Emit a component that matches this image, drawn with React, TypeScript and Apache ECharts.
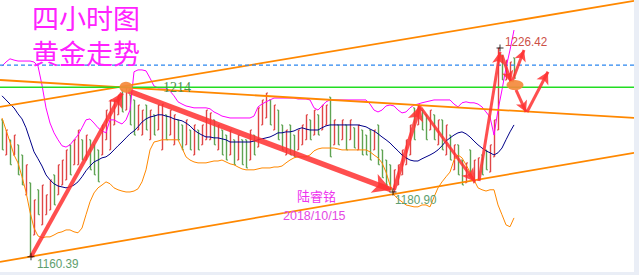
import React, { useEffect, useRef } from "react";
import * as echarts from "echarts";

// ---- data (4-hour gold bars) ----
const SLOT_COUNT = 158;
const slots = Array.from({ length: SLOT_COUNT }, (_, i) => String(i));

const opens = [
  1203.7, 1192.6, 1197.4, 1192.6, 1195.8, 1192.6, 1180.0, 1183.8, 1167.3, 1181.6,
  1170.5, 1173.7, 1175.2, 1186.3, 1180.0, 1183.1, 1184.7, 1195.8, 1189.5, 1189.5,
  1197.4, 1191.0, 1197.4, 1195.8, 1194.2, 1192.6, 1197.4, 1194.2, 1202.1, 1205.3,
  1213.2, 1206.8, 1211.6, 1210.0, 1200.5, 1198.9, 1208.4, 1197.4, 1205.3, 1200.5,
  1194.2, 1205.3, 1198.9, 1195.8, 1203.7, 1202.1, 1195.8, 1200.5, 1192.6, 1200.5,
  1195.8, 1197.4, 1197.4, 1203.7, 1194.2, 1200.5, 1198.9, 1192.6, 1197.4, 1191.0,
  1197.4, 1197.4, 1191.0, 1198.9, 1195.1, 1202.1, 1204.3, 1210.0, 1200.5, 1206.8,
  1202.1, 1192.6, 1202.1, 1198.9, 1194.2, 1195.8, 1197.4, 1203.7, 1198.9, 1205.3,
  1200.5, 1202.1, 1210.9, 1195.8, 1202.1, 1197.4, 1202.1, 1197.4, 1201.2, 1194.2,
  1200.5, 1198.9, 1200.5, 1194.2, 1202.1, 1194.2, 1191.0, 1189.5, 1180.9, 1183.1,
  1186.3, 1189.5, 1192.6, 1207.5, 1202.1, 1206.8, 1205.3, 1200.5, 1205.3, 1195.8,
  1203.7, 1192.6, 1198.9, 1187.9, 1195.8, 1191.0, 1183.8, 1194.2, 1183.8, 1184.7,
  1192.6, 1194.2, 1187.2, 1192.0, 1200.5, 1224.2, 1216.3, 1215.7, 1223.3,
];
const closes = [
  1194.2, 1200.5, 1189.5, 1198.9, 1186.3, 1183.1, 1189.5, 1160.39, 1178.4, 1173.7,
  1183.1, 1180.0, 1184.7, 1176.8, 1189.5, 1191.0, 1194.2, 1186.3, 1197.4, 1200.5,
  1191.0, 1198.9, 1187.9, 1186.3, 1184.1, 1202.1, 1206.8, 1210.0, 1210.0, 1211.6,
  1206.2, 1214.0, 1202.1, 1198.9, 1208.4, 1206.8, 1200.5, 1206.8, 1198.9, 1208.4,
  1208.7, 1197.4, 1206.8, 1205.3, 1197.4, 1194.2, 1203.7, 1194.2, 1202.1, 1194.2,
  1202.1, 1206.8, 1205.9, 1195.8, 1202.1, 1192.6, 1191.0, 1200.5, 1189.5, 1198.9,
  1189.5, 1188.5, 1200.5, 1192.6, 1207.5, 1210.0, 1212.2, 1202.1, 1208.4, 1197.4,
  1194.2, 1200.5, 1192.6, 1192.0, 1200.5, 1202.1, 1205.3, 1197.4, 1206.8, 1198.9,
  1208.4, 1208.4, 1192.0, 1203.7, 1195.8, 1203.7, 1194.2, 1203.7, 1194.8, 1202.1,
  1192.6, 1192.6, 1191.0, 1200.5, 1189.5, 1185.4, 1183.1, 1181.6, 1187.9, 1189.5,
  1194.2, 1197.4, 1202.1, 1197.4, 1208.4, 1200.5, 1197.4, 1206.8, 1197.4, 1203.7,
  1194.2, 1202.1, 1191.0, 1195.8, 1186.3, 1183.1, 1190.1, 1186.3, 1191.0, 1191.7,
  1186.3, 1187.9, 1195.8, 1203.7, 1226.42, 1216.3, 1222.6, 1222.0, 1216.9,
];

const upperBand = [
  1220.7, 1222.0, 1223.0, 1222.6, 1222.3, 1222.3, 1222.3, 1222.3, 1222.0, 1220.7,
  1214.7, 1207.5, 1202.7, 1199.6, 1197.4, 1195.5, 1195.1, 1195.8, 1197.4, 1198.9,
  1201.2, 1203.7, 1204.0, 1202.7, 1201.2, 1200.2, 1199.6, 1203.7, 1203.7, 1203.0,
  1202.4, 1203.7, 1206.8, 1218.9, 1219.5, 1219.5, 1219.2, 1216.9, 1214.4, 1213.8,
  1213.8, 1213.8, 1212.8, 1211.3, 1209.4, 1208.7, 1208.1, 1207.8, 1207.5, 1207.5,
  1207.5, 1207.5, 1207.2, 1206.2, 1205.6, 1204.9, 1204.6, 1204.3, 1204.3, 1204.3,
  1204.3, 1204.3, 1204.3, 1204.9, 1207.8, 1208.7, 1209.4, 1210.0, 1210.6, 1210.6,
  1210.6, 1210.6, 1210.6, 1210.6, 1210.3, 1210.3, 1210.3, 1210.0, 1207.5, 1206.8,
  1208.1, 1209.4, 1210.0, 1210.0, 1210.0, 1210.0, 1210.0, 1210.0, 1210.0, 1210.0,
  1210.0, 1210.0, 1208.7, 1206.8, 1206.2, 1206.8, 1208.1, 1208.4, 1208.1, 1206.8,
  1205.9, 1206.2, 1207.5, 1208.4, 1208.7, 1209.1, 1209.4, 1209.7, 1210.0, 1210.0,
  1210.0, 1210.0, 1210.0, 1208.7, 1207.8, 1209.1, 1209.4, 1209.1, 1209.1, 1208.7,
  1207.8, 1206.2, 1204.6, 1198.9, 1206.8, 1213.2, 1220.1, 1225.8, 1232.1,
];
const midBand = [
  1211.3, 1210.0, 1208.7, 1207.5, 1205.6, 1204.0, 1201.2, 1197.4, 1193.6, 1191.4,
  1189.1, 1186.3, 1184.7, 1183.5, 1182.8, 1182.5, 1182.2, 1182.5, 1183.1, 1184.1,
  1185.7, 1187.6, 1189.1, 1190.4, 1191.0, 1191.7, 1192.0, 1192.9, 1194.2, 1195.5,
  1196.7, 1198.0, 1199.3, 1200.2, 1201.5, 1203.0, 1204.0, 1204.6, 1204.9, 1205.3,
  1205.3, 1204.9, 1204.6, 1204.0, 1203.7, 1203.4, 1202.7, 1201.8, 1200.5, 1199.6,
  1198.9, 1198.3, 1198.3, 1198.0, 1198.0, 1197.7, 1197.4, 1196.7, 1196.7, 1196.7,
  1196.7, 1196.7, 1196.7, 1197.0, 1197.4, 1197.7, 1198.0, 1198.3, 1198.9, 1199.6,
  1199.6, 1199.9, 1199.9, 1200.2, 1200.8, 1201.2, 1200.8, 1200.5, 1200.5, 1200.5,
  1201.2, 1201.8, 1202.1, 1202.1, 1202.1, 1202.1, 1202.1, 1202.1, 1202.1, 1202.1,
  1201.8, 1201.5, 1200.8, 1200.2, 1199.3, 1198.3, 1197.4, 1196.4, 1195.1, 1193.9,
  1192.6, 1191.7, 1191.0, 1190.7, 1190.7, 1191.4, 1192.0, 1192.6, 1193.3, 1194.2,
  1195.5, 1197.0, 1198.0, 1198.9, 1199.6, 1199.9, 1199.3, 1198.3, 1197.0, 1195.8,
  1194.8, 1193.9, 1193.3, 1192.6, 1193.3, 1194.8, 1197.4, 1199.9, 1202.1,
];
const lowerBand = [
  1204.3, 1200.5, 1196.7, 1192.6, 1190.1, 1185.7, 1180.9, 1174.6, 1169.5, 1167.0,
  1166.4, 1166.7, 1166.7, 1167.3, 1168.0, 1168.3, 1168.9, 1168.9, 1168.3, 1168.0,
  1169.5, 1173.7, 1177.8, 1180.6, 1182.2, 1183.1, 1184.1, 1183.5, 1182.2, 1181.6,
  1181.2, 1180.9, 1180.9, 1181.2, 1181.9, 1184.1, 1187.9, 1194.2, 1196.7, 1197.0,
  1197.4, 1197.4, 1197.4, 1197.4, 1197.4, 1194.8, 1192.0, 1191.0, 1190.4, 1190.1,
  1190.1, 1190.1, 1190.4, 1190.7, 1190.7, 1191.0, 1190.4, 1189.8, 1189.5, 1188.8,
  1188.2, 1187.9, 1187.9, 1187.9, 1188.2, 1188.5, 1188.5, 1188.5, 1188.8, 1188.8,
  1189.1, 1190.1, 1191.0, 1191.7, 1192.0, 1192.0, 1192.0, 1192.6, 1193.9, 1194.5,
  1194.8, 1194.8, 1194.8, 1194.8, 1194.5, 1194.2, 1194.2, 1194.2, 1194.2, 1194.2,
  1194.2, 1194.2, 1193.6, 1192.6, 1191.7, 1190.1, 1187.2, 1183.1, 1180.0, 1178.7,
  1177.8, 1176.8, 1176.5, 1176.2, 1176.2, 1176.8, 1176.8, 1176.2, 1179.3, 1182.2,
  1184.1, 1185.7, 1187.2, 1191.0, 1192.6, 1191.7, 1189.5, 1187.2, 1184.7, 1182.2,
  1181.6, 1181.2, 1181.6, 1181.6, 1176.8, 1173.7, 1170.5, 1169.9, 1172.7,
];

// trend / channel lines: [slot, price] anchors
const upperChannel = [[-0.5, 1207.8], [158, 1241.3]];
const resistanceLine = [[-0.5, 1216.3], [158, 1204.3]];
const lowerChannel = [[-0.5, 1158.8], [158, 1193.3]];
const level1214 = 1214.0;
const level1221 = 1221.0;

// drawn arrows: [[fromSlot, fromPrice], [toSlot, toPrice]]
const arrowPaths = [
  [[7.25, 1160.4], [30.0, 1212.2]],
  [[31.5, 1212.9], [97.25, 1181.6]],
  [[98.0, 1181.6], [104.5, 1208.1]],
  [[104.75, 1207.5], [118.25, 1184.1]],
  [[119.25, 1184.4], [124.5, 1225.2]],
  [[125.0, 1224.2], [127.25, 1215.7]],
  [[127.5, 1215.7], [130.5, 1225.8]],
  [[128.5, 1213.2], [131.0, 1206.2]],
  [[131.25, 1206.2], [136.5, 1218.9]],
];
const arrowWidths = [4, 5.5, 4, 3, 3, 3, 3, 3, 3];
const arrowHeads = [[12, 14], [15, 18], [12, 15], [11, 13], [9, 12], [9, 11], [9, 11], [9, 11], [10, 12]];

const markerSpots = [[31, 1214.0], [128.25, 1214.7]];
const crossSpots = [[7.25, 1160.39], [124.5, 1226.42], [97.75, 1180.9]];

const RED = "#e04646";
const GREEN = "#5ea352";

export default function App() {
  const ref = useRef<HTMLDivElement>(null);

  useEffect(() => {
    if (!ref.current) return;
    const chart = echarts.init(ref.current, null, { renderer: "svg", width: 634, height: 272 });
    const barData = opens.map((o, i) => {
      const c = closes[i];
      return [i, o, c, Math.min(o, c), Math.max(o, c)];
    });
    const ellipseSizes = [[13, 11], [17, 10]];
    const numStyle = { fontSize: 13, fontFamily: '"Liberation Sans"', verticalAlign: "top" };
    const titleStyle = { fill: "#ff22ff", fontSize: 27, fontFamily: '"Liberation Sans", "Noto Sans CJK SC"', verticalAlign: "top" };
    const option: any = {
      animation: false,
      backgroundColor: "#ffffff",
      grid: { left: 0, top: 0, width: 632, height: 272 },
      xAxis: [
        { type: "category", data: slots, boundaryGap: true, show: false },
        { type: "value", min: -0.5, max: SLOT_COUNT - 0.5, show: false },
      ],
      yAxis: { type: "value", min: 1155.6, max: 1241.6, show: false, splitLine: { show: false } },
      series: [
        {
          type: "custom",
          data: barData,
          encode: { x: 0, y: [1, 2, 3, 4] },
          z: 2,
          silent: true,
          renderItem: (params: any, api: any) => {
            const i = api.value(0);
            const o = api.value(1);
            const c = api.value(2);
            const lo = api.value(3);
            const hi = api.value(4);
            const pl = api.coord([i, lo]);
            const ph = api.coord([i, hi]);
            const po = api.coord([i, o]);
            const pc = api.coord([i, c]);
            const color = c >= o ? RED : GREEN;
            const x = Math.round(pl[0]) + 0.5;
            return {
              type: "group",
              children: [
                { type: "line", shape: { x1: x, y1: pl[1], x2: x, y2: ph[1] }, style: { stroke: color, lineWidth: 1.4 } },
                { type: "line", shape: { x1: x - 1.5, y1: po[1], x2: x, y2: po[1] }, style: { stroke: color, lineWidth: 1 } },
                { type: "line", shape: { x1: x, y1: pc[1], x2: x + 1.5, y2: pc[1] }, style: { stroke: color, lineWidth: 1 } },
              ],
            };
          },
        },
        { type: "line", data: upperBand, showSymbol: false, lineStyle: { color: "#ff00ff", width: 1 }, z: 3, silent: true },
        { type: "line", data: midBand, showSymbol: false, lineStyle: { color: "#000088", width: 1 }, z: 3, silent: true },
        { type: "line", data: lowerBand, showSymbol: false, lineStyle: { color: "#ff8800", width: 1 }, z: 3, silent: true },
        { type: "line", xAxisIndex: 1, data: upperChannel, showSymbol: false, lineStyle: { color: "#ff8800", width: 1.8 }, z: 4, silent: true },
        { type: "line", xAxisIndex: 1, data: resistanceLine, showSymbol: false, lineStyle: { color: "#ff8800", width: 1.8 }, z: 4, silent: true },
        { type: "line", xAxisIndex: 1, data: lowerChannel, showSymbol: false, lineStyle: { color: "#ff8800", width: 1.8 }, z: 4, silent: true },
        { type: "line", xAxisIndex: 1, data: [[-0.5, level1214], [158, level1214]], showSymbol: false, lineStyle: { color: "#22dd22", width: 1.6 }, z: 4, silent: true },
        { type: "line", xAxisIndex: 1, data: [[-0.5, level1221], [158, level1221]], showSymbol: false, lineStyle: { color: "#2b86f0", width: 1.3, type: [4, 3] }, z: 4, silent: true },
        {
          type: "line",
          xAxisIndex: 1,
          data: [],
          z: 8,
          silent: true,
          markLine: {
            silent: true,
            animation: false,
            symbol: ["none", "arrow"],
            label: { show: false },
            emphasis: { disabled: true },
            itemStyle: { color: "rgba(255,48,48,0.85)" },
            data: arrowPaths.map((seg, k) => [
              { coord: seg[0], lineStyle: { color: "rgba(255,48,48,0.85)", width: arrowWidths[k], type: "solid" } },
              { coord: seg[1], symbolSize: arrowHeads[k] },
            ]),
          },
        },
        {
          type: "scatter",
          xAxisIndex: 1,
          data: markerSpots.map((v, k) => ({ value: v, symbolSize: ellipseSizes[k] })),
          itemStyle: { color: "#f48a3c", opacity: 0.92 },
          z: 10,
          silent: true,
        },
        {
          type: "scatter",
          xAxisIndex: 1,
          data: crossSpots,
          symbol: "path://M0 3h7v1h-7zM3 0h1v7h-1z",
          symbolSize: 7,
          itemStyle: { color: "#000000" },
          z: 11,
          silent: true,
        },
      ],
      graphic: [
        { type: "text", x: 32, y: 6, z: 20, style: { ...titleStyle, text: "四小时图" } },
        { type: "text", x: 32, y: 41, z: 20, style: { ...titleStyle, text: "黄金走势" } },
        { type: "text", x: 163, y: 80, z: 20, style: { text: "1214", fill: "#4d8f4d", fontSize: 14, fontFamily: '"Liberation Serif"', verticalAlign: "top" } },
        { type: "text", x: 505, y: 35, z: 20, scaleX: 0.9, style: { ...numStyle, text: "1226.42", fill: "#cc5046" } },
        { type: "text", x: 395, y: 193, z: 20, scaleX: 0.9, style: { ...numStyle, text: "1180.90", fill: "#5e9e6e" } },
        { type: "text", x: 37, y: 257, z: 20, scaleX: 0.9, style: { ...numStyle, text: "1160.39", fill: "#5e9e6e" } },
        { type: "text", x: 297, y: 189, z: 20, style: { text: "陆睿铭", fill: "#ee33ee", fontSize: 13, fontFamily: '"Noto Sans CJK SC"', verticalAlign: "top" } },
        { type: "text", x: 283, y: 209, z: 20, style: { text: "2018/10/15", fill: "#e448e4", fontSize: 12.5, fontFamily: '"Liberation Sans"', verticalAlign: "top" } },
      ],
    };
    chart.setOption(option);
    return () => chart.dispose();
  }, []);

  return (
    <div style={{ position: "fixed", left: 0, top: 0, width: 639, height: 275, background: "#eaeef6" }}>
      <div ref={ref} style={{ width: 634, height: 272, background: "#ffffff" }} />
    </div>
  );
}
